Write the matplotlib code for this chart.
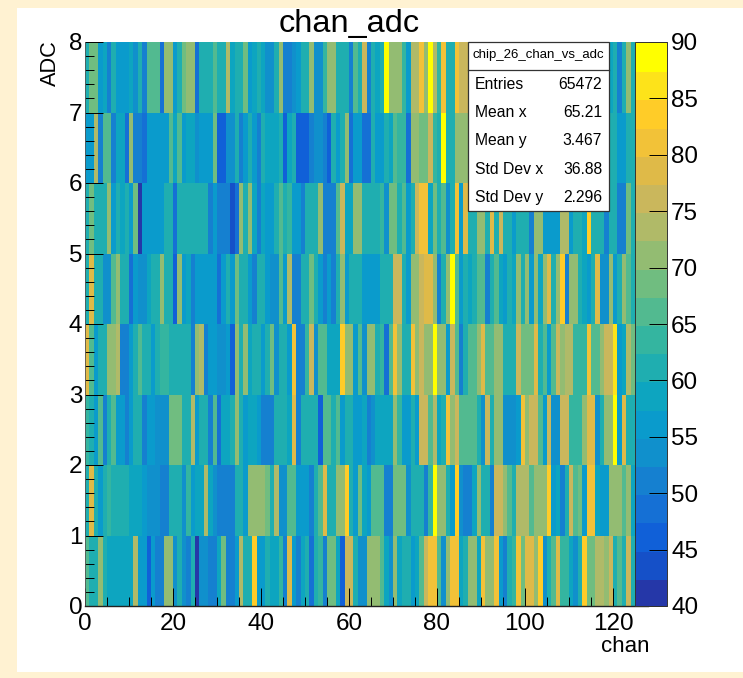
import numpy as np
import matplotlib
matplotlib.use('Agg')
import matplotlib.pyplot as plt
from matplotlib.colors import ListedColormap, BoundaryNorm
from matplotlib.patches import Rectangle
from matplotlib.ticker import MultipleLocator

plt.rcParams['font.family'] = ['Liberation Sans', 'DejaVu Sans']

W = 743
H = 678

# counts per chan, one list per ADC row. cells behind the stats box are a guess (65)
adc0 = [66,60,60,70,60,58,58,58,58,58,
        58,74,56,56,47,55,50,50,72,72,
        53,62,54,50,62,41,54,54,52,52,
        58,68,50,50,56,74,60,60,84,55,
        55,60,58,58,64,50,78,55,50,58,
        60,49,60,64,51,68,68,58,47,76,
        76,60,53,53,72,72,72,66,58,54,
        72,58,62,62,56,58,66,76,80,80,
        66,53,72,80,80,58,62,70,70,58,
        82,70,70,80,55,50,62,64,81,68,
        78,78,72,84,53,62,66,78,64,64,
        58,54,60,84,68,68,74,74,70,76,
        62,66,60,76,60,65,65,65]
adc1 = [62,78,60,55,60,64,62,62,62,60,
        58,58,58,55,54,54,54,51,51,60,
        60,60,53,63,55,58,58,73,58,53,
        51,51,51,52,60,60,56,71,71,71,
        71,68,62,74,53,53,66,66,56,56,
        56,52,60,66,78,62,62,70,70,84,
        62,56,68,58,55,66,66,66,51,51,
        68,68,68,54,62,62,62,50,64,90,
        70,72,60,56,83,54,50,52,58,72,
        60,62,50,76,75,70,66,62,73,73,
        73,66,72,72,72,84,55,58,52,60,
        76,65,68,56,80,80,58,56,56,70,
        70,70,66,72,58,65,65,65]
adc2 = [63,60,56,66,50,60,66,55,55,50,
        55,60,60,52,57,57,53,53,53,68,
        68,68,60,60,73,57,62,60,52,66,
        48,58,58,60,70,62,55,58,58,55,
        52,52,52,60,62,60,58,78,50,62,
        60,60,60,47,66,66,60,65,56,62,
        62,55,55,58,50,53,58,58,58,58,
        70,63,56,56,60,55,76,76,66,73,
        58,62,82,72,77,65,65,66,66,62,
        54,77,60,72,72,53,53,53,56,80,
        72,76,76,66,56,76,54,54,76,76,
        64,64,64,72,78,78,53,60,70,70,
        89,55,78,62,62,65,65,65]
adc3 = [78,66,55,62,60,71,71,73,52,52,
        56,60,66,62,60,55,60,63,64,60,
        62,62,60,60,52,70,74,52,57,55,
        53,53,55,47,72,60,70,58,60,60,
        56,60,68,54,62,60,56,81,50,50,
        64,76,53,66,66,58,58,58,84,72,
        72,56,65,54,72,72,60,64,49,65,
        82,72,60,60,82,70,76,72,70,88,
        71,71,55,76,66,52,60,66,66,72,
        78,66,66,72,72,62,60,60,76,69,
        69,69,78,62,66,56,65,76,72,74,
        74,64,64,64,80,66,66,70,75,75,
        86,56,58,74,68,65,65,65]
adc4 = [62,78,62,60,53,53,65,72,60,60,
        48,55,54,53,58,60,60,70,60,60,
        47,72,56,58,52,55,55,56,56,56,
        49,55,60,55,68,60,60,55,50,62,
        62,55,53,53,65,55,74,50,50,60,
        60,68,60,56,51,56,52,60,72,55,
        60,60,60,55,55,55,55,62,62,62,
        75,75,62,56,72,72,76,79,79,70,
        50,60,70,88,66,55,62,58,60,65,
        65,52,60,65,58,55,62,58,72,60,
        70,55,70,58,72,78,60,70,84,50,
        70,70,62,58,56,60,78,54,54,72,
        55,60,70,66,62,65,65,65]
adc5 = [62,68,60,60,60,72,55,60,58,60,
        57,68,41,55,55,55,55,55,60,60,
        49,60,60,60,60,60,60,62,52,55,
        51,51,51,44,49,72,60,70,58,51,
        58,56,56,60,66,60,64,56,56,51,
        60,60,60,72,52,52,52,66,77,58,
        58,72,72,60,60,60,60,64,53,68,
        68,60,66,57,62,76,81,81,58,68,
        62,66,53,60,82,55,78,62,62,70,
        70,60,78,60,76,60,60,55,62,62,
        62,52,70,70,55,55,55,55,73,73,
        57,60,60,58,83,60,60,60,50,60,
        60,52,52,68,60,65,65,65]
adc6 = [55,55,73,50,65,65,52,58,58,48,
        70,52,52,48,56,56,56,56,56,65,
        58,65,55,58,58,53,56,56,56,68,
        47,47,54,54,60,52,55,62,55,52,
        60,58,58,58,60,47,58,60,46,46,
        46,50,53,53,50,47,60,55,60,72,
        48,57,55,49,49,62,55,55,62,58,
        66,64,64,48,72,72,68,68,75,64,
        60,90,60,60,72,72,72,65,65,65,
        65,65,65,65,65,65,65,65,65,65,
        65,65,65,65,65,65,65,65,65,65,
        65,65,65,65,65,65,65,65,65,60,
        60,55,55,60,60,65,65,65]
adc7 = [62,68,68,56,58,52,60,55,55,56,
        58,53,60,51,66,66,66,49,70,70,
        56,62,68,72,72,49,60,60,62,65,
        60,60,73,58,62,62,68,55,58,62,
        58,53,53,60,72,51,51,54,57,62,
        62,70,54,54,63,70,70,60,60,60,
        50,65,60,76,52,60,58,62,90,72,
        72,72,63,56,73,73,80,70,90,74,
        64,80,60,60,80,76,76,65,65,65,
        65,65,65,65,65,65,65,65,65,65,
        65,65,65,65,65,65,65,65,65,65,
        65,65,65,65,65,65,65,65,65,58,
        62,52,60,72,62,65,65,65]

chan_edges = np.arange(129)
adc_edges = np.arange(9)
counts = np.array([adc0, adc1, adc2, adc3, adc4, adc5, adc6, adc7])

stat_names = ['Entries', 'Mean x', 'Mean y', 'Std Dev x', 'Std Dev y']
stat_values = ['65472', '65.21', '3.467', '36.88', '2.296']
stat_rows_y = [84.3, 112.7, 140.7, 169, 197]

# 20 contours
bird = ['#2537A8', '#1550C8', '#1060D8', '#1570D5', '#1580D0',
        '#1090CC', '#0A9BCC', '#0DA5C0', '#1FAEB0', '#34B5A0',
        '#52BA90', '#70BD80', '#93BC72', '#B0BA68', '#CAB75C',
        '#DFBA48', '#F2C238', '#FFCC28', '#FDE31A', '#FFFF00']
levels = np.arange(40, 92.5, 2.5)
cmap = ListedColormap(bird)
norm = BoundaryNorm(levels, cmap.N)


def px_box(x0, y0, x1, y1):
    # pixel box (y going down) to figure fractions
    return [x0/W, 1-y1/H, (x1-x0)/W, (y1-y0)/H]


fig = plt.figure(figsize=(W/100, H/100), dpi=100, facecolor='#FFF2D2')
fig.add_artist(Rectangle((17/W, 1-672/H), 726/W, 664/H, transform=fig.transFigure,
                         facecolor='white', edgecolor='none', zorder=-1))

ax = fig.add_axes(px_box(85, 42, 648.2, 606))
ax.pcolormesh(chan_edges, adc_edges, counts, cmap=cmap, norm=norm)
ax.set_xlim(0, 128)
ax.set_ylim(0, 8)
ax.spines['top'].set_visible(False)
ax.spines['right'].set_visible(False)
ax.spines['left'].set_linewidth(0.6)
ax.spines['left'].set_color('#555555')
ax.spines['bottom'].set_linewidth(1.0)
ax.spines['bottom'].set_color('#222222')
ax.set_xticks(np.arange(0, 121, 20))
ax.set_yticks(np.arange(0, 9))
ax.xaxis.set_minor_locator(MultipleLocator(5))
ax.yaxis.set_minor_locator(MultipleLocator(0.2))
ax.tick_params(which='major', direction='in', length=13, width=0.7, labelsize=17.5, pad=2)
ax.tick_params(which='minor', direction='in', length=6.5, width=0.7)
ax.tick_params(axis='x', which='major', pad=5)

cax = fig.add_axes(px_box(635, 42, 667, 606))
cax.set_zorder(2)
cb = fig.colorbar(ax.collections[0], cax=cax, ticks=np.arange(40, 95, 5), spacing='proportional')
cb.outline.set_linewidth(0.7)
cb.outline.set_edgecolor('#333333')
cb.ax.minorticks_off()
cb.ax.tick_params(direction='in', length=13, width=0.7, labelsize=17.5, pad=3)
cb.solids.set_edgecolor('face')

fig.text(349/W, 1-24/H, 'chan_adc', fontsize=23.4, ha='center', va='center')
fig.text(649/W, 1-646/H, 'chan', fontsize=16, ha='right', va='center')
fig.text(50/W, 1-40/H, 'ADC', fontsize=15.7, rotation=90, ha='center', va='top')

# stats box
fig.add_artist(Rectangle((468/W, 1-211/H), 141/W, 169/H, transform=fig.transFigure,
                         facecolor='white', edgecolor='#333333', linewidth=0.9, zorder=5))
fig.add_artist(plt.Line2D([468/W, 609/W], [1-70/H, 1-70/H], transform=fig.transFigure,
                          color='#333333', linewidth=0.9, zorder=6))
fig.text(538.5/W, 1-55/H, 'chip_26_chan_vs_adc', fontsize=9.5, ha='center', va='center', zorder=7)
for name, val, y in zip(stat_names, stat_values, stat_rows_y):
    fig.text(475/W, 1-y/H, name, fontsize=11.3, ha='left', va='center', zorder=7)
    fig.text(602/W, 1-y/H, val, fontsize=11.3, ha='right', va='center', zorder=7)

fig.savefig('out.png', dpi=100, facecolor=fig.get_facecolor())
